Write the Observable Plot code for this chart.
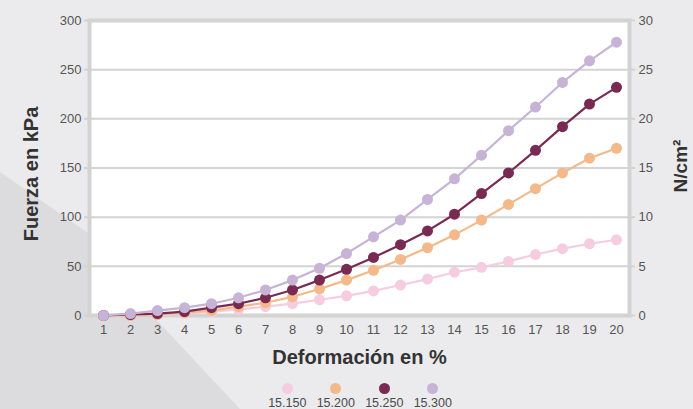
<!DOCTYPE html>
<html>
<head>
<meta charset="utf-8">
<script src="https://cdn.jsdelivr.net/npm/d3@7"></script>
<script src="https://cdn.jsdelivr.net/npm/@observablehq/plot@0.6"></script>
<style>
  html, body { margin: 0; padding: 0; }
  body { width: 693px; height: 409px; overflow: hidden; background: #ebebed; position: relative;
         font-family: "Liberation Sans", Arial, sans-serif; }
  #bg { position: absolute; left: 0; top: 0; }
  #chart { position: absolute; left: 0; top: 0; }
  #legend { position: absolute; left: 0; top: 383px; width: 720px; display: flex; justify-content: center; }
  .item { width: 48.5px; display: flex; flex-direction: column; align-items: center; }
  .dot { width: 11px; height: 11px; border-radius: 50%; }
  .lab { font-size: 12.5px; color: #4a4a4a; margin-top: 2px; }
</style>
</head>
<body>
<svg id="bg" width="693" height="409"><polygon points="0,172 88,233 150,313 240,409 0,409" fill="#dcdcde"/></svg>
<div id="chart"></div>
<div id="legend"></div>
<script>
const deformacion = d3.range(1, 21);
const seriesNames = ["15.150", "15.200", "15.250", "15.300"];
const seriesColors = ["#f6cde0", "#f4b98a", "#782a52", "#c7b3d6"];
const s15150 = [0, 0, 1, 2, 4, 6, 9, 12, 16, 20, 25, 31, 37, 44, 49, 55, 62, 68, 73, 77];
const s15200 = [0, 0, 1, 3, 5, 9, 13, 19, 27, 36, 46, 57, 69, 82, 97, 113, 129, 145, 160, 170];
const s15250 = [0, 1, 2, 4, 8, 12, 18, 26, 36, 47, 59, 72, 86, 103, 124, 145, 168, 192, 215, 232];
const s15300 = [0, 2, 5, 8, 12, 18, 26, 36, 48, 63, 80, 97, 118, 139, 163, 188, 212, 237, 259, 278];
const yTicks = [0, 50, 100, 150, 200, 250, 300];
const rightTickLabels = ["0", "5", "10", "15", "20", "25", "30"];

const allSeries = [s15150, s15200, s15250, s15300];
const data = allSeries.flatMap((vals, i) => vals.map((v, j) => ({x: deformacion[j], y: v, s: seriesNames[i]})));

const plot = Plot.plot({
  width: 693, height: 375,
  marginLeft: 89, marginRight: 64, marginTop: 20, marginBottom: 60,
  style: {background: "transparent", fontFamily: "Liberation Sans, Arial, sans-serif", fontSize: "13px"},
  x: {type: "point", domain: deformacion, padding: 0.5},
  y: {domain: [0, 300]},
  color: {domain: seriesNames, range: seriesColors},
  marks: [
    Plot.frame({fill: "white", stroke: "#d3d3d3", strokeWidth: 4}),
    Plot.gridY(yTicks.slice(1, -1), {stroke: "#d3d3d3", strokeOpacity: 1, strokeWidth: 2}),
    Plot.axisY(yTicks, {anchor: "left", tickSize: 5, tickPadding: 3, stroke: "#d3d3d3", strokeWidth: 2, fill: "#555", label: null, fontSize: 13}),
    Plot.axisY(yTicks, {anchor: "right", tickSize: 5, tickPadding: 4, stroke: "#d3d3d3", strokeWidth: 2, fill: "#555", label: null, fontSize: 13,
      tickFormat: (d) => rightTickLabels[yTicks.indexOf(d)]}),
    Plot.axisX({anchor: "bottom", tickSize: 0, tickPadding: 9, fill: "#555", label: null, fontSize: 13}),
    Plot.line(data, {x: "x", y: "y", z: "s", stroke: "s", strokeWidth: 2.2}),
    Plot.dot(data, {x: "x", y: "y", fill: "s", r: 5.5}),
    Plot.text(["Deformación en %"], {frameAnchor: "bottom", dy: 48, fontSize: 20, fontWeight: "bold", fill: "#333"}),
    Plot.text(["Fuerza en kPa"], {frameAnchor: "left", textAnchor: "middle", dx: -58, dy: 6, rotate: -90, fontSize: 20, fontWeight: "bold", fill: "#333"}),
    Plot.text(["N/cm²"], {frameAnchor: "right", textAnchor: "middle", dx: 51, dy: -2, rotate: -90, fontSize: 19, fontWeight: "bold", fill: "#333"})
  ]
});
document.getElementById("chart").appendChild(plot);

const legend = document.getElementById("legend");
seriesNames.forEach((n, i) => {
  const it = document.createElement("div");
  it.className = "item";
  it.innerHTML = `<div class="dot" style="background:${seriesColors[i]}"></div><div class="lab">${n}</div>`;
  legend.appendChild(it);
});
</script>
</body>
</html>
